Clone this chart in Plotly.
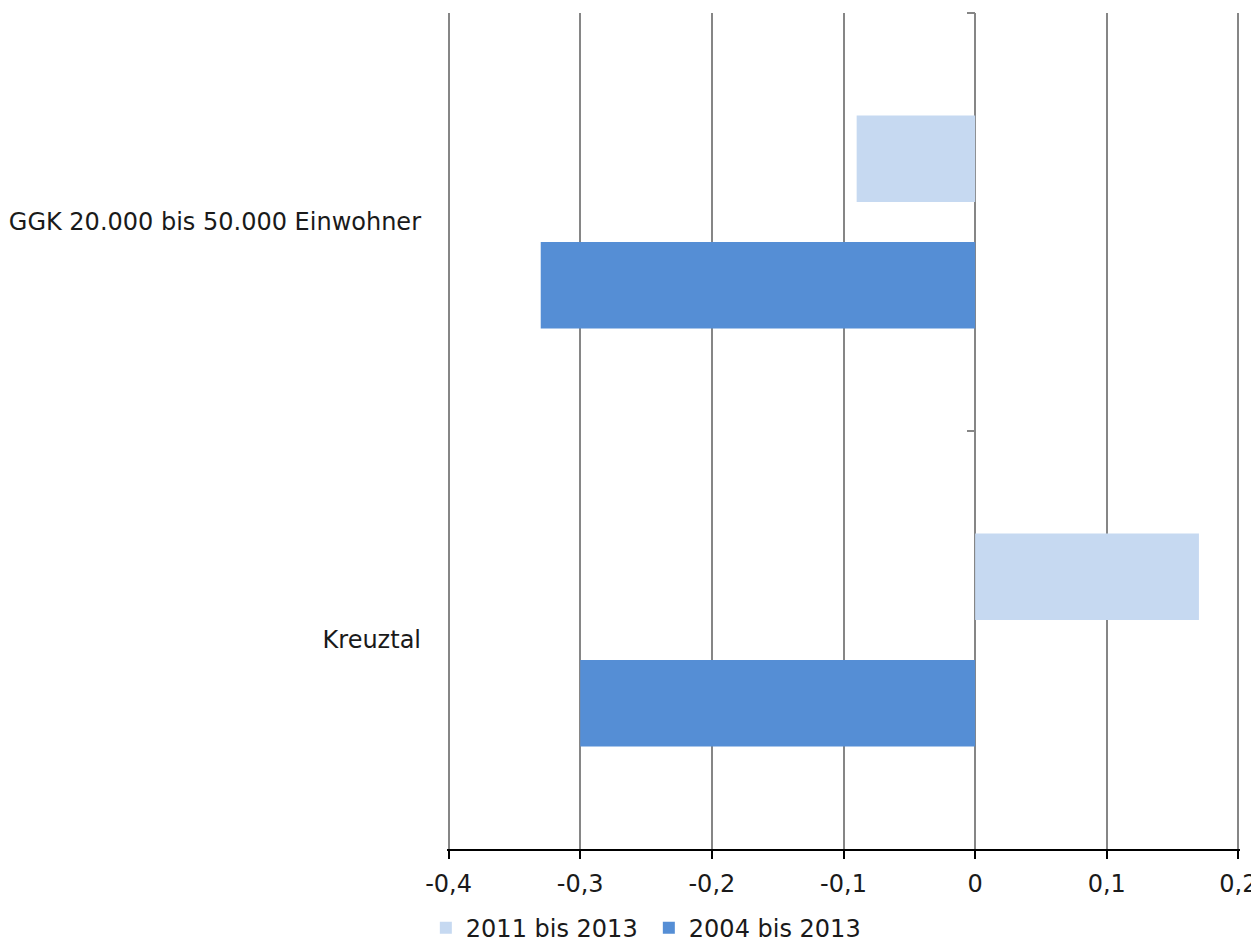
import plotly.graph_objects as go

categories = ["GGK 20.000 bis 50.000 Einwohner", "Kreuztal"]
series_names = ["2011 bis 2013", "2004 bis 2013"]
values_2011_2013 = [-0.09, 0.17]
values_2004_2013 = [-0.33, -0.30]
x_ticks = [-0.4, -0.3, -0.2, -0.1, 0, 0.1, 0.2]
x_tick_labels = ["-0,4", "-0,3", "-0,2", "-0,1", "0", "0,1", "0,2"]

colors = ["#C6D9F1", "#558ED5"]
font_family = "DejaVu Sans, Noto Sans, sans-serif"
grid_color = "#868686"

fig = go.Figure()
for name, vals, col in zip(series_names, [values_2011_2013, values_2004_2013], colors):
    fig.add_trace(go.Bar(
        x=vals, y=categories, orientation="h", name=name,
        marker=dict(color=col, line=dict(width=0)),
    ))

# invisible helper trace so the zero-positioned category tick axis renders
fig.add_trace(go.Scatter(
    x=[0, 0], y=categories, yaxis="y2", mode="markers",
    marker=dict(opacity=0), showlegend=False, hoverinfo="skip",
))

xmin, xmax = x_ticks[0], x_ticks[-1]
eps = 0.0012
zero_pos = (0 - (xmin - eps)) / ((xmax + eps) - (xmin - eps))

fig.update_layout(
    width=1251, height=939,
    margin=dict(l=439, r=19, t=5, b=98, autoexpand=False),
    paper_bgcolor="white", plot_bgcolor="white",
    barmode="group", bargap=0.395, bargroupgap=0.316,
    font=dict(family=font_family, size=24, color="#1a1a1a"),
    xaxis=dict(
        range=[xmin - eps, xmax + eps], tickvals=x_ticks, ticktext=x_tick_labels,
        showgrid=True, gridcolor=grid_color, gridwidth=2,
        zeroline=True, zerolinecolor=grid_color, zerolinewidth=2,
        showline=True, linecolor="black", linewidth=2,
        ticks="outside", ticklen=8, tickwidth=2, tickcolor="black",
        ticklabelstandoff=4, automargin=False,
    ),
    yaxis=dict(
        type="category", range=[1.5, -0.5],
        showgrid=False, zeroline=False, showline=False,
        ticks="", ticklabelstandoff=25, automargin=False,
    ),
    yaxis2=dict(
        type="category", range=[1.5, -0.5], overlaying="y",
        anchor="free", position=zero_pos, side="left",
        showticklabels=False, showgrid=False, zeroline=False,
        showline=False, ticks="outside", tickson="boundaries",
        ticklen=8, tickwidth=2, tickcolor=grid_color, automargin=False,
    ),
    legend=dict(
        orientation="h", xref="container", yref="container",
        x=0.334, xanchor="left", y=0.02, yanchor="middle",
        font=dict(size=24), itemwidth=30, entrywidth=178,
        traceorder="normal",
    ),
)

fig.write_html("out.html")
